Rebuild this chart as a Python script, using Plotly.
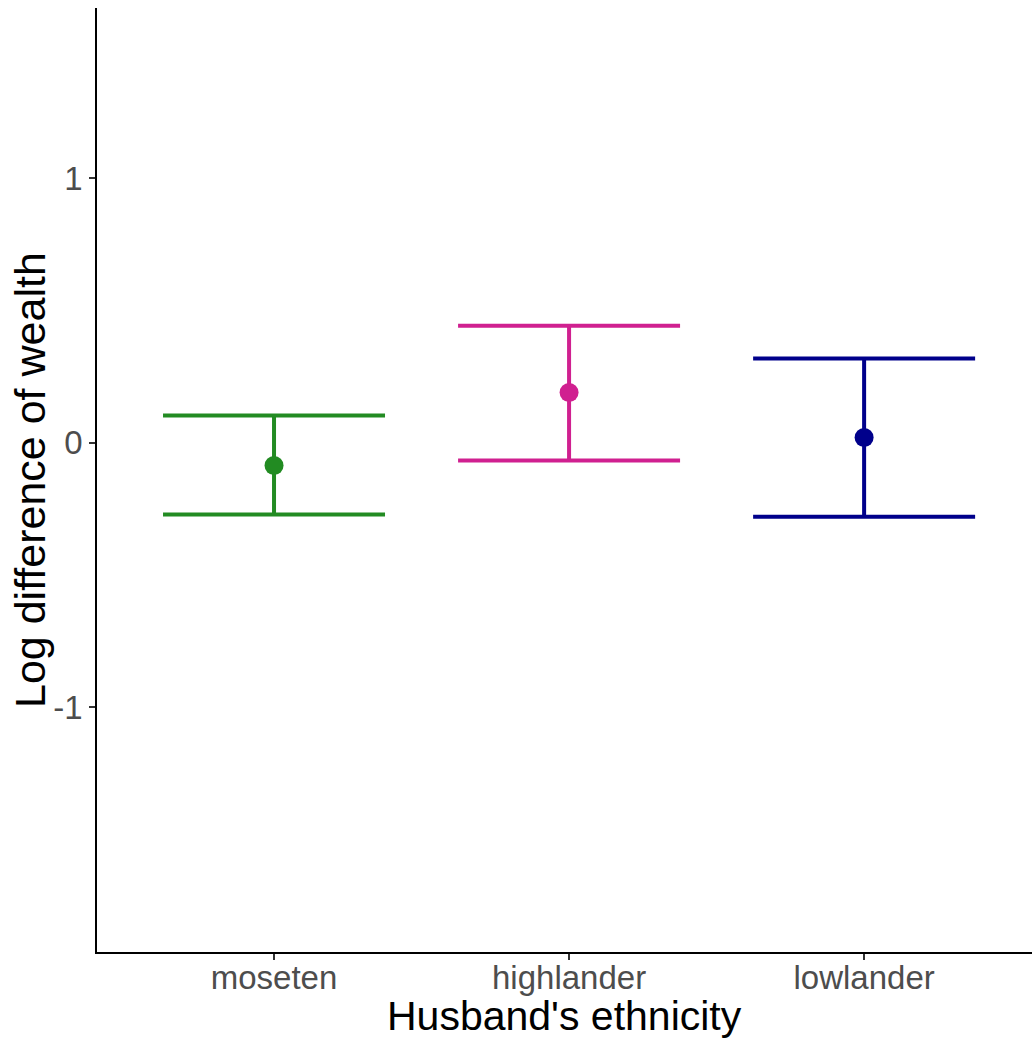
import plotly.graph_objects as go

categories = ["moseten", "highlander", "lowlander"]
estimate = [-0.087, 0.189, 0.019]
upper = [0.102, 0.442, 0.318]
lower = [-0.272, -0.068, -0.280]
colors = ["#228B22", "#D02090", "#00008B"]
y_ticks = [-1, 0, 1]
y_tick_labels = ["-1", "0", "1"]

fig = go.Figure()
for cat, est, up, lo, col in zip(categories, estimate, upper, lower, colors):
    fig.add_trace(go.Scatter(
        x=[cat], y=[est], mode="markers",
        marker=dict(color=col, size=19),
        error_y=dict(type="data", symmetric=False,
                     array=[up - est], arrayminus=[est - lo],
                     color=col, thickness=4, width=111),
        showlegend=False,
    ))

font_family = "Liberation Sans, Arial, sans-serif"
fig.update_layout(
    width=1032, height=1040,
    margin=dict(l=97, r=0, t=8, b=88),
    paper_bgcolor="white", plot_bgcolor="white",
    font=dict(family=font_family),
    xaxis=dict(
        type="category", range=[-0.6, 2.569], automargin=False,
        showline=True, linecolor="black", linewidth=1.5,
        ticks="outside", ticklen=6, tickwidth=1.5, tickcolor="#333333",
        tickfont=dict(size=33, color="#4D4D4D"), ticklabelstandoff=-10,
        showgrid=False, zeroline=False,
    ),
    yaxis=dict(
        range=[-1.926, 1.643], automargin=False,
        tickvals=y_ticks, ticktext=y_tick_labels,
        showline=True, linecolor="black", linewidth=1.5,
        ticks="outside", ticklen=6, tickwidth=1.5, tickcolor="#333333",
        tickfont=dict(size=33, color="#4D4D4D"),
        showgrid=False, zeroline=False,
    ),
    annotations=[
        dict(text="Husband's ethnicity", xref="paper", yref="paper",
             x=0.5, y=0, xanchor="center", yanchor="middle", yshift=-64,
             showarrow=False, font=dict(size=41, color="black")),
        dict(text="Log difference of wealth", xref="paper", yref="paper",
             x=0, y=0.5, xanchor="center", yanchor="middle", xshift=-67,
             textangle=-90, showarrow=False, font=dict(size=43, color="black")),
    ],
)

fig.write_html("out.html", config={"displayModeBar": False},
               post_script="document.body.style.margin='0';")
